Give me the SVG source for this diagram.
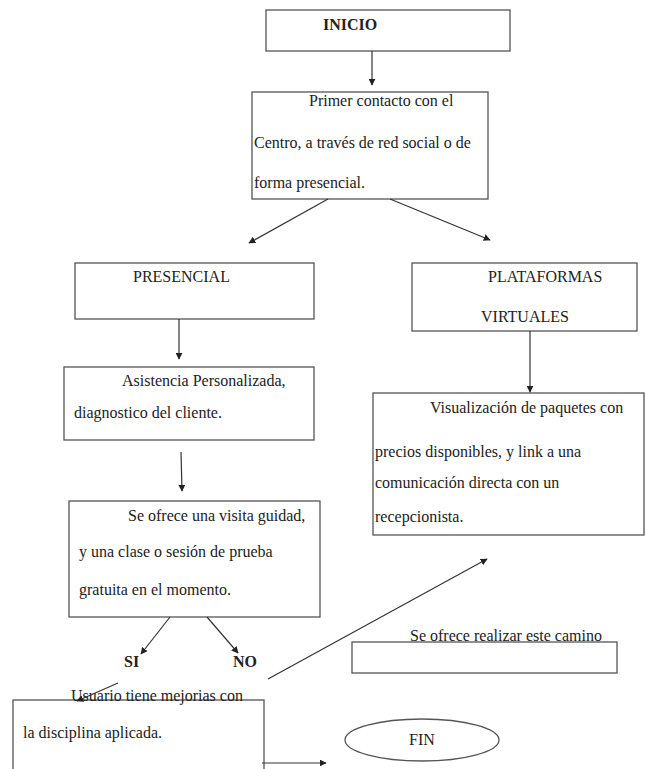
<svg xmlns="http://www.w3.org/2000/svg" width="646" height="769" viewBox="0 0 646 769">
<defs>
<marker id="ah" viewBox="0 0 10 10" refX="9" refY="5" markerWidth="7" markerHeight="7" orient="auto" markerUnits="userSpaceOnUse">
<path d="M0,0 L10,5 L0,10 z" fill="#222"/>
</marker>
<style>
.box{fill:#fff;stroke:#555;stroke-width:1.3}
.t{font-family:"Liberation Serif","Times New Roman",serif;font-size:16px;fill:#222}
.b{font-weight:bold}
.c{stroke:#333;stroke-width:1.2;fill:none;marker-end:url(#ah)}
.l{stroke:#333;stroke-width:1.2;fill:none}
</style>
</defs>
<rect width="646" height="769" fill="#fff"/>
<g id="inicio"><rect class="box" x="266" y="10" width="244" height="41"/><text class="t b" x="323" y="30">INICIO</text></g>
<g id="contacto"><rect class="box" x="252" y="92" width="236" height="107"/>
<text class="t" x="309" y="106">Primer contacto con el</text>
<text class="t" x="254" y="148">Centro, a través de red social o de</text>
<text class="t" x="254" y="188">forma presencial.</text></g>
<g id="presencial"><rect class="box" x="75" y="263" width="239" height="56"/><text class="t" x="133" y="282">PRESENCIAL</text></g>
<g id="plataformas"><rect class="box" x="412" y="263" width="225" height="68"/>
<text class="t" x="488" y="282">PLATAFORMAS</text>
<text class="t" x="481" y="322">VIRTUALES</text></g>
<g id="asistencia"><rect class="box" x="64" y="367" width="250" height="73"/>
<text class="t" x="122" y="386">Asistencia Personalizada,</text>
<text class="t" x="74" y="418">diagnostico del cliente.</text></g>
<g id="visualizacion"><rect class="box" x="373" y="393" width="271" height="142"/>
<text class="t" x="430" y="413">Visualización de paquetes con</text>
<text class="t" x="375" y="457">precios disponibles, y link a una</text>
<text class="t" x="375" y="488">comunicación directa con un</text>
<text class="t" x="375" y="522">recepcionista.</text></g>
<g id="visita"><rect class="box" x="69" y="501" width="251" height="116"/>
<text class="t" x="128" y="521">Se ofrece una visita guidad,</text>
<text class="t" x="79" y="557">y una clase o sesión de prueba</text>
<text class="t" x="79" y="595">gratuita en el momento.</text></g>
<g id="si"><text class="t b" x="124" y="667">SI</text></g>
<g id="no"><text class="t b" x="233" y="667">NO</text></g>
<g id="camino"><rect class="box" x="352" y="642" width="265" height="31"/><text class="t" x="410" y="641">Se ofrece realizar este camino</text></g>
<g id="usuario"><rect class="box" x="13" y="700" width="251" height="90"/>
<text class="t" x="71" y="701">Usuario tiene mejorias con</text>
<text class="t" x="23" y="738">la disciplina aplicada.</text></g>
<g id="fin"><ellipse class="box" cx="422" cy="740" rx="77" ry="21"/><text class="t" x="422" y="745" text-anchor="middle">FIN</text></g>
<g id="connectors">
<line class="c" x1="372" y1="51" x2="372" y2="85"/>
<line class="c" x1="328" y1="199" x2="249" y2="243"/>
<line class="c" x1="390" y1="199" x2="490" y2="240"/>
<line class="c" x1="179" y1="319" x2="179" y2="359"/>
<line class="c" x1="530" y1="331" x2="530" y2="392"/>
<line class="c" x1="181" y1="452" x2="182" y2="491"/>
<line class="c" x1="170" y1="617" x2="141" y2="654"/>
<line class="c" x1="207" y1="617" x2="238" y2="653"/>
<line class="c" x1="268" y1="679" x2="487" y2="559"/>
<line class="c" x1="118" y1="683" x2="77" y2="701"/>
<line class="c" x1="262" y1="763" x2="326" y2="763"/>
</g>
</svg>
